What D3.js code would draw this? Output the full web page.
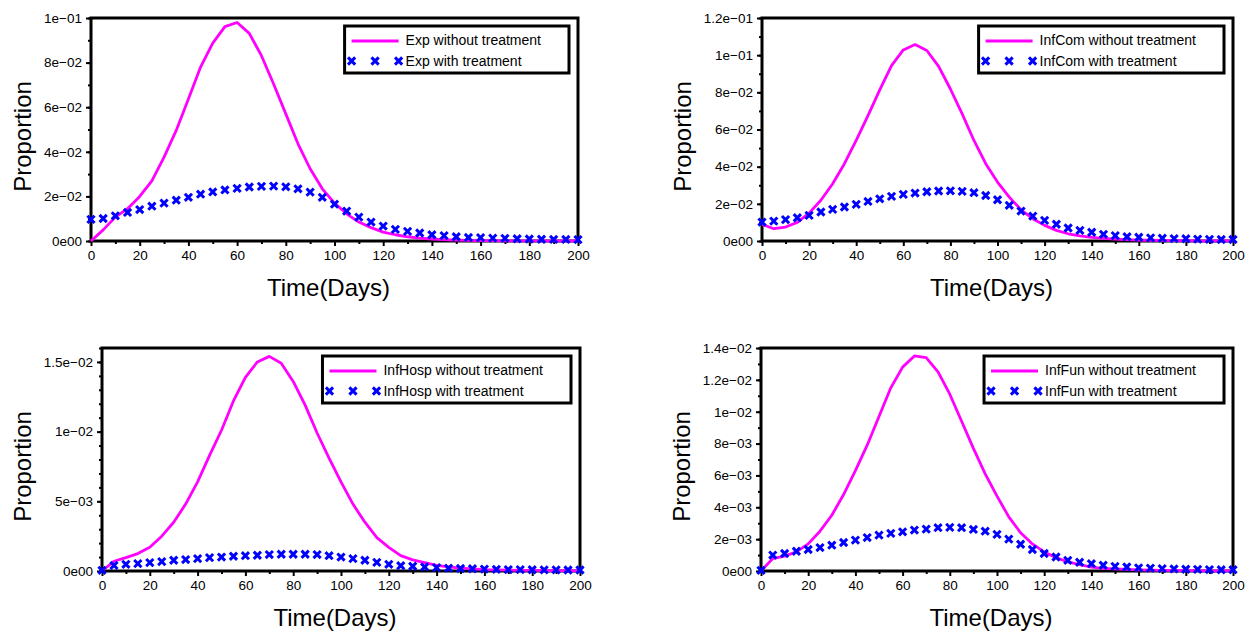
<!DOCTYPE html>
<html>
<head>
<meta charset="utf-8">
<script src="https://cdn.jsdelivr.net/npm/d3@7"></script>
<style>
body { margin: 0; background: #fff; }
svg text { font-family: "Liberation Sans", Arial, Helvetica, sans-serif; fill: #000; }
</style>
</head>
<body>
<svg id="chart" width="1247" height="633"></svg>
<script>
// time points (days)
const days = [0, 5, 10, 15, 20, 25, 30, 35, 40, 45, 50, 55, 60, 65, 70, 75, 80, 85, 90, 95, 100,
  105, 110, 115, 120, 125, 130, 135, 140, 145, 150, 155, 160, 165, 170, 175, 180, 185, 190, 195, 200]

const xTicks = [0, 20, 40, 60, 80, 100, 120, 140, 160, 180, 200]
const xTickLabels = ['0', '20', '40', '60', '80', '100', '120', '140', '160', '180', '200']
const xMinorTicks = [10, 30, 50, 70, 90, 110, 130, 150, 170, 190]

// Exp
const expWithout = [0, 0.005, 0.0107, 0.0145, 0.020, 0.027, 0.0376, 0.0496, 0.0637, 0.078, 0.0887,
  0.0961, 0.098, 0.0931, 0.0831, 0.0704, 0.057, 0.0436, 0.0324, 0.0234, 0.0170, 0.0122, 0.0085,
  0.006, 0.0040, 0.0028, 0.0019, 0.0013, 0.0009, 0.0006, 0.0004, 0.0003, 0.0002, 0.00015, 0.0001,
  0.00008, 0.00006, 0.00005, 0.00004, 0.00003, 0.00002]
const expWith = [0.0097, 0.0101, 0.0113, 0.0128, 0.0141, 0.0156, 0.0170, 0.0183, 0.0196, 0.0210,
  0.0220, 0.0229, 0.0236, 0.0242, 0.0245, 0.0246, 0.0243, 0.0234, 0.0219, 0.0196, 0.0165, 0.0134,
  0.0107, 0.0085, 0.0067, 0.0052, 0.0043, 0.0036, 0.0028, 0.0024, 0.0019, 0.0016, 0.0015, 0.0013,
  0.0012, 0.0010, 0.0009, 0.0008, 0.0007, 0.0007, 0.0006]

// InfCom
const infComWithout = [0.0090, 0.0066, 0.0075, 0.0100, 0.0150, 0.0219, 0.0308, 0.0416, 0.0541,
  0.0675, 0.0813, 0.0944, 0.1028, 0.1057, 0.1025, 0.0940, 0.0818, 0.0684, 0.0541, 0.0416, 0.0317,
  0.0236, 0.0168, 0.0120, 0.0084, 0.0057, 0.0039, 0.0027, 0.0020, 0.0014, 0.0010, 0.0007, 0.0005,
  0.0004, 0.0003, 0.0002, 0.00015, 0.0001, 0.00008, 0.00006, 0.00005]
const infComWith = [0.0102, 0.0107, 0.0115, 0.0125, 0.0138, 0.0156, 0.0170, 0.0183, 0.0197, 0.0213,
  0.0227, 0.0240, 0.0251, 0.0258, 0.0265, 0.0269, 0.0270, 0.0267, 0.0260, 0.0245, 0.0222, 0.0192,
  0.0161, 0.0134, 0.0111, 0.0090, 0.0070, 0.0057, 0.0047, 0.0036, 0.0029, 0.0023, 0.0020, 0.0017,
  0.0015, 0.0013, 0.0012, 0.0010, 0.0009, 0.0008, 0.0008]

// InfHosp
const infHospWithout = [0, 0.0007, 0.00096, 0.00125, 0.0017, 0.0025, 0.0035, 0.0048, 0.0064, 0.0083,
  0.0101, 0.0122, 0.0139, 0.0150, 0.0154, 0.0149, 0.0136, 0.0119, 0.0099, 0.0081, 0.0064, 0.0048,
  0.0035, 0.0024, 0.0017, 0.0011, 0.0008, 0.0006, 0.0004, 0.0003, 0.0002, 0.00015, 0.0001, 0.00008,
  0.00006, 0.00005, 0.00004, 0.00003, 0.00002, 0.00002, 0.00001]
const infHospWith = [0.00005, 0.0004, 0.00048, 0.00053, 0.0006, 0.00067, 0.00077, 0.00082, 0.00089,
  0.00096, 0.0010, 0.00106, 0.0011, 0.00113, 0.00118, 0.0012, 0.0012, 0.0012, 0.00118, 0.0011, 0.0010,
  0.00089, 0.00077, 0.00062, 0.00048, 0.00038, 0.00034, 0.00029, 0.00024, 0.0002, 0.00018, 0.00016,
  0.00014, 0.00012, 0.0001, 0.0001, 0.00009, 0.00008, 0.00008, 0.00007, 0.00007]

// InfFun
const infFunWithout = [0, 0.00078, 0.00093, 0.0012, 0.0017, 0.0025, 0.0035, 0.0048, 0.0063, 0.0079,
  0.0097, 0.0115, 0.0128, 0.0135, 0.0134, 0.0125, 0.0111, 0.0094, 0.0077, 0.0061, 0.0047, 0.0034,
  0.0024, 0.0017, 0.0012, 0.00084, 0.00057, 0.0004, 0.00025, 0.00017, 0.00013, 0.0001, 0.00007,
  0.00005, 0.00004, 0.00003, 0.00002, 0.00002, 0.00001, 0.00001, 0.00001]
const infFunWith = [0.00004, 0.0010, 0.0011, 0.00124, 0.00135, 0.00147, 0.00162, 0.00179, 0.00194,
  0.0021, 0.00225, 0.00236, 0.00246, 0.00257, 0.00263, 0.00272, 0.00274, 0.00272, 0.00261, 0.0025,
  0.0023, 0.0020, 0.00168, 0.00135, 0.0011, 0.00088, 0.00067, 0.00055, 0.00046, 0.00036, 0.00029,
  0.00025, 0.0002, 0.00018, 0.00015, 0.00013, 0.00011, 0.0001, 0.00009, 0.00008, 0.00008]

// y axes
const expTicks = [0, 0.02, 0.04, 0.06, 0.08, 0.1]
const expTickLabels = ['0e00', '2e\u221202', '4e\u221202', '6e\u221202', '8e\u221202', '1e\u221201']
const infComTicks = [0, 0.02, 0.04, 0.06, 0.08, 0.1, 0.12]
const infComTickLabels = ['0e00', '2e\u221202', '4e\u221202', '6e\u221202', '8e\u221202', '1e\u221201', '1.2e\u221201']
const infHospTicks = [0, 0.005, 0.01, 0.015]
const infHospTickLabels = ['0e00', '5e\u221203', '1e\u221202', '1.5e\u221202']
const infFunTicks = [0, 0.002, 0.004, 0.006, 0.008, 0.01, 0.012, 0.014]
const infFunTickLabels = ['0e00', '2e\u221203', '4e\u221203', '6e\u221203', '8e\u221203', '1e\u221202', '1.2e\u221202', '1.4e\u221202']

const panels = [
  {name: 'Exp', without: expWithout, treated: expWith, yMax: 0.1, ticks: expTicks, labels: expTickLabels, minor: 0.01},
  {name: 'InfCom', without: infComWithout, treated: infComWith, yMax: 0.12, ticks: infComTicks, labels: infComTickLabels, minor: 0.01},
  {name: 'InfHosp', without: infHospWithout, treated: infHospWith, yMax: 0.016, ticks: infHospTicks, labels: infHospTickLabels, minor: 0.001},
  {name: 'InfFun', without: infFunWithout, treated: infFunWith, yMax: 0.014, ticks: infFunTicks, labels: infFunTickLabels, minor: 0.001}
]

// plot rectangles in the page
const layout = [
  {left: 91, right: 578, top: 18, bottom: 241},
  {left: 762, right: 1233, top: 18, bottom: 241},
  {left: 102, right: 580, top: 348, bottom: 571},
  {left: 761, right: 1233, top: 348, bottom: 571}
]

const magenta = '#ff00ff'
const blue = '#0000ff'
const cross = 'M-3.6,-3.6L3.6,3.6M3.6,-3.6L-3.6,3.6'

const svg = d3.select('#chart')

function styleAxis(sel) {
  sel.select('.domain').remove()
  sel.selectAll('line').attr('stroke', '#000').attr('stroke-width', 2)
  sel.selectAll('text').attr('font-size', 13.5).attr('fill', '#000')
}

panels.forEach((p, k) => {
  const b = layout[k]
  const g = svg.append('g')

  const x = d3.scaleLinear().domain([0, 200]).range([b.left, b.right])
  const y = d3.scaleLinear().domain([0, p.yMax]).range([b.bottom, b.top])

  // minor ticks
  g.append('g')
    .attr('transform', `translate(0,${b.bottom})`)
    .call(d3.axisBottom(x).tickValues(xMinorTicks).tickSize(3).tickFormat(''))
    .call(styleAxis)

  const yMinor = d3.range(0, p.yMax + 1e-9, p.minor)
  g.append('g')
    .attr('transform', `translate(${b.left},0)`)
    .call(d3.axisLeft(y).tickValues(yMinor).tickSize(3).tickFormat(''))
    .call(styleAxis)

  // major ticks
  g.append('g')
    .attr('transform', `translate(0,${b.bottom})`)
    .call(d3.axisBottom(x).tickValues(xTicks).tickSize(5).tickPadding(4)
      .tickFormat((d, i) => xTickLabels[i]))
    .call(styleAxis)

  const yAxis = g.append('g')
    .attr('transform', `translate(${b.left},0)`)
    .call(d3.axisLeft(y).tickValues(p.ticks).tickSize(5).tickPadding(4)
      .tickFormat((d, i) => p.labels[i]))
    .call(styleAxis)

  // frame
  g.append('rect')
    .attr('x', b.left)
    .attr('y', b.top)
    .attr('width', b.right - b.left)
    .attr('height', b.bottom - b.top)
    .attr('fill', 'none')
    .attr('stroke', '#000')
    .attr('stroke-width', 3)

  // without treatment
  g.append('path')
    .datum(days)
    .attr('fill', 'none')
    .attr('stroke', magenta)
    .attr('stroke-width', 2.8)
    .attr('stroke-linejoin', 'round')
    .attr('d', d3.line().x(d => x(d)).y((d, i) => y(p.without[i])))

  // with treatment
  g.selectAll('path.mark')
    .data(days)
    .join('path')
    .attr('class', 'mark')
    .attr('transform', (d, i) => `translate(${x(d)},${y(p.treated[i])})`)
    .attr('d', cross)
    .attr('fill', 'none')
    .attr('stroke', blue)
    .attr('stroke-width', 3)

  // axis titles
  g.append('text')
    .attr('x', (b.left + b.right) / 2 - 6)
    .attr('y', b.bottom + 55)
    .attr('text-anchor', 'middle')
    .attr('font-size', 24)
    .text('Time(Days)')

  const labelLeft = yAxis.node().getBBox().x + b.left
  g.append('text')
    .attr('transform', `translate(${labelLeft - 13},${(b.top + b.bottom) / 2 + 7}) rotate(-90)`)
    .attr('text-anchor', 'middle')
    .attr('font-size', 24)
    .text('Proportion')

  // legend
  const leg = g.append('g')
  const t1 = leg.append('text').attr('font-size', 14).text(p.name + ' without treatment')
  const t2 = leg.append('text').attr('font-size', 14).text(p.name + ' with treatment')
  const tw = Math.max(t1.node().getComputedTextLength(), t2.node().getComputedTextLength())
  const boxRight = b.right - 9
  const boxLeft = boxRight - (61 + tw + 28)
  const boxTop = b.top + 8

  leg.insert('rect', 'text')
    .attr('x', boxLeft)
    .attr('y', boxTop)
    .attr('width', boxRight - boxLeft)
    .attr('height', 47)
    .attr('fill', '#fff')
    .attr('stroke', '#000')
    .attr('stroke-width', 3)

  leg.append('line')
    .attr('x1', boxLeft + 7)
    .attr('x2', boxLeft + 54)
    .attr('y1', boxTop + 15)
    .attr('y2', boxTop + 15)
    .attr('stroke', magenta)
    .attr('stroke-width', 2.8)

  leg.selectAll('path.lmark')
    .data([7, 30.5, 54])
    .join('path')
    .attr('class', 'lmark')
    .attr('transform', d => `translate(${boxLeft + d},${boxTop + 35})`)
    .attr('d', cross)
    .attr('fill', 'none')
    .attr('stroke', blue)
    .attr('stroke-width', 3)

  t1.attr('x', boxLeft + 61).attr('y', boxTop + 19)
  t2.attr('x', boxLeft + 61).attr('y', boxTop + 40)
})
</script>
</body>
</html>
